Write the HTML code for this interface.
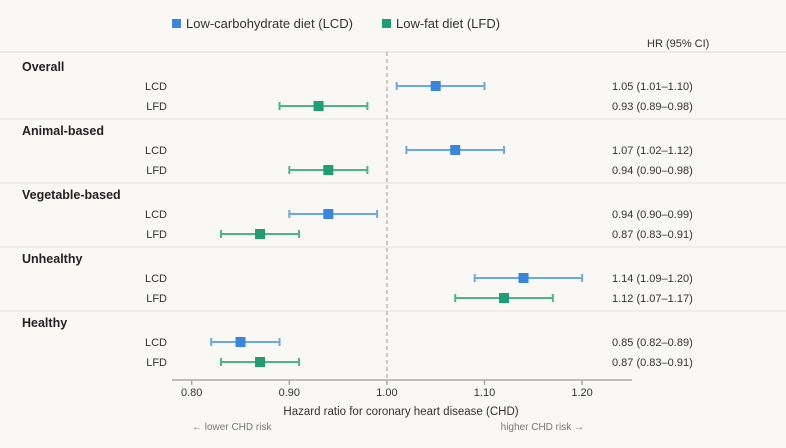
<!DOCTYPE html>
<html><head><meta charset="utf-8"><style>
body{margin:0;background:#f9f8f5;font-family:"Liberation Sans",sans-serif;}
svg{display:block}
</style></head><body>
<svg id="c" width="786" height="448" font-family="Liberation Sans, sans-serif">
<rect width="786" height="448" fill="#f9f8f5"/>
<g>
<rect x="172" y="19" width="9" height="9" fill="#3a86dc"/>
<text x="186" y="28" font-size="13" fill="#333">Low-carbohydrate diet (LCD)</text>
<rect x="382" y="19" width="9" height="9" fill="#1f9e74"/>
<text x="396" y="28" font-size="13" fill="#333">Low-fat diet (LFD)</text>
</g>
<line x1="0" y1="52" x2="786" y2="52" stroke="#ebe9e4" stroke-width="2"/>
<text x="647" y="47" font-size="11" fill="#333">HR (95% CI)</text>
<g id="rows"></g>
<line x1="387" y1="52" x2="387" y2="380" stroke="#bbb" stroke-width="1.5" stroke-dasharray="4,3"/>
<line x1="172" y1="380" x2="632" y2="380" stroke="#aaa" stroke-width="1.5"/>
<g id="ticks"></g>
<text x="401" y="415" font-size="11.5" fill="#333" text-anchor="middle">Hazard ratio for coronary heart disease (CHD)</text>
<text x="192" y="430" font-size="10" fill="#777">← lower CHD risk</text>
<text x="584" y="430" font-size="10" fill="#777" text-anchor="end">higher CHD risk →</text>
</svg>
<script>
const groups=["Overall","Animal-based","Vegetable-based","Unhealthy","Healthy"];
const lcdHR=[1.05,1.07,0.94,1.14,0.85];
const lcdLo=[1.01,1.02,0.90,1.09,0.82];
const lcdHi=[1.10,1.12,0.99,1.20,0.89];
const lfdHR=[0.93,0.94,0.87,1.12,0.87];
const lfdLo=[0.89,0.90,0.83,1.07,0.83];
const lfdHi=[0.98,0.98,0.91,1.17,0.91];
const tickVals=[0.80,0.90,1.00,1.10,1.20];
const NS="http://www.w3.org/2000/svg";
const x=v=>191.7+(v-0.8)*976;
function el(t,a,p){const e=document.createElementNS(NS,t);for(const k in a)e.setAttribute(k,a[k]);p.appendChild(e);return e;}
const rows=document.getElementById('rows');
const f=v=>v.toFixed(2);
groups.forEach((g,i)=>{
  const y0=67+i*64;
  const t=el('text',{x:22,y:y0+4,'font-size':12.5,'font-weight':'bold',fill:'#222'},rows);t.textContent=g;
  
  
  if(i>0){const s=el('line',{x1:0,x2:786,y1:y0-12,y2:y0-12,stroke:'#ebe9e4','stroke-width':1.5},rows);
    
    }
  [["LCD",lcdHR,lcdLo,lcdHi,"#3a86dc","#6aa8e8",19],["LFD",lfdHR,lfdLo,lfdHi,"#1f9e74","#4db38f",39]].forEach(s=>{
    const y=y0+s[6];
    const l=el('text',{x:167,y:y+4,'font-size':11,fill:'#333','text-anchor':'end'},rows);l.textContent=s[0];
    
    
    const w=el('g',{stroke:s[5],'stroke-width':2},rows);
    
    
    el('line',{x1:x(s[2][i]),x2:x(s[3][i]),y1:y,y2:y},w);
    el('line',{x1:x(s[2][i]),x2:x(s[2][i]),y1:y-4,y2:y+4},w);
    el('line',{x1:x(s[3][i]),x2:x(s[3][i]),y1:y-4,y2:y+4},w);
    const m=el('rect',{x:x(s[1][i])-5,y:y-5,width:10,height:10,fill:s[4]},rows);
    
    
    const v=el('text',{x:612,y:y+4,'font-size':11,fill:'#333'},rows);
    v.textContent=f(s[1][i])+" ("+f(s[2][i])+"–"+f(s[3][i])+")";
    
    
  });
});
const tk=document.getElementById('ticks');
tickVals.forEach(v=>{
  const l=el('line',{x1:x(v),x2:x(v),y1:380,y2:385,stroke:'#aaa','stroke-width':1.5},tk);
  
  
  const t=el('text',{x:x(v),y:396,'font-size':11,fill:'#333','text-anchor':'middle'},tk);t.textContent=v.toFixed(2);
  
  
});
</script>
</body></html>
